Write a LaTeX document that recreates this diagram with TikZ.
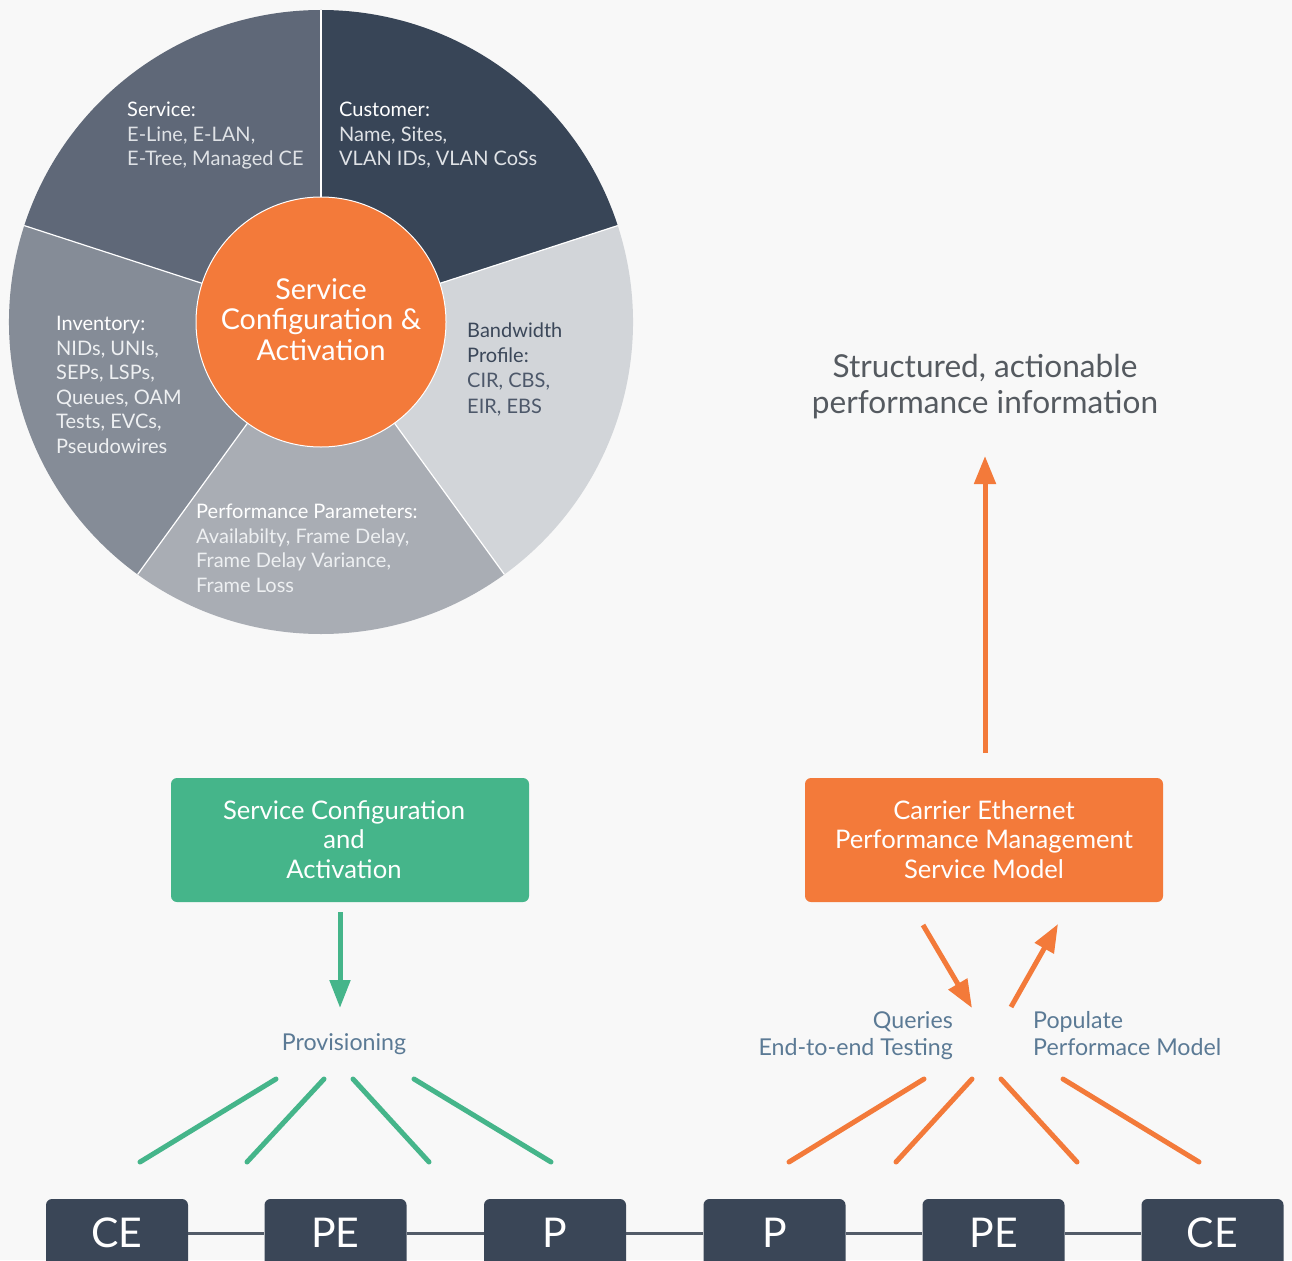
\documentclass[tikz,border=0pt]{standalone}
\usepackage{fontspec}
\setmainfont{Lato}
\usetikzlibrary{arrows.meta}
\definecolor{bg}{HTML}{F8F8F8}
\definecolor{segService}{HTML}{5F6878}
\definecolor{segCust}{HTML}{384557}
\definecolor{segBand}{HTML}{D2D5D9}
\definecolor{segPerf}{HTML}{A9ADB4}
\definecolor{segInv}{HTML}{858C97}
\definecolor{orng}{HTML}{F37A3A}
\definecolor{grn}{HTML}{45B58A}
\definecolor{slate}{HTML}{5B7A95}
\definecolor{netdark}{HTML}{3A4657}
\definecolor{netline}{HTML}{525B68}
\definecolor{headgray}{HTML}{555A60}
\definecolor{bodyA}{HTML}{DFE2E6}
\definecolor{bodyB}{HTML}{EEF0F2}
\definecolor{bandTitle}{HTML}{3B4759}
\definecolor{bandBody}{HTML}{4D586A}
\begin{document}
\begin{tikzpicture}[x=1pt,y=1pt,
  segtxt/.style={font=\fontsize{20}{24.5}\selectfont, align=left, inner sep=0pt, anchor=base west},
  boxtxt/.style={font=\fontsize{25.6}{29.5}\selectfont, align=center, text=white, inner sep=0pt},
  lbl/.style={font=\fontsize{23.2}{27}\selectfont, text=slate, inner sep=0pt},
  netbox/.style={fill=netdark, rounded corners=6pt, minimum width=142pt, minimum height=68pt, inner sep=0pt, text=white, font=\fontsize{41}{41}\selectfont},
  netlink/.style={draw=netline, line width=3pt},
  gfan/.style={draw=grn, line width=5pt, line cap=round},
  ofan/.style={draw=orng, line width=5pt, line cap=round},
  garrow/.style={draw=grn, line width=5pt, -{Triangle[width=20pt,length=28pt]}},
  oarrow/.style={draw=orng, line width=5pt, -{Triangle[width=21pt,length=28pt]}}
]
\useasboundingbox (0,0) rectangle (1292,-1260);
\clip (0,0) rectangle (1292,-1260);
\fill[bg] (0,0) rectangle (1292,-1260);

% pie
\coordinate (C) at (321,-322);
\fill[segCust] (C) -- ++(18:312pt) arc[start angle=18,end angle=90,radius=312pt] -- cycle;
\fill[segService] (C) -- ++(90:312pt) arc[start angle=90,end angle=162,radius=312pt] -- cycle;
\fill[segInv] (C) -- ++(162:312pt) arc[start angle=162,end angle=234,radius=312pt] -- cycle;
\fill[segPerf] (C) -- ++(234:312pt) arc[start angle=234,end angle=306,radius=312pt] -- cycle;
\fill[segBand] (C) -- ++(306:312pt) arc[start angle=306,end angle=378,radius=312pt] -- cycle;
\foreach \a in {18,90,162,234,306} \draw[white, line width=1.2pt] (C) -- ++(\a:312pt);
\node[circle, fill=orng, draw=white, line width=1pt, minimum size=250pt, inner sep=0pt] (hub) at (C) {};
\node[font=\fontsize{28.7}{30.5}\selectfont, text=white, align=center, inner sep=0pt, anchor=base] (hubtxt) at (321,-360) {Service\\Configuration \&\\Activation};

\node[segtxt, text=bodyA] (svc) at (127,-166) {\textcolor{white}{Service:}\\E-Line, E-LAN,\\E-Tree, Managed CE};
\node[segtxt, text=bodyA] (cust) at (339,-166) {\textcolor{white}{Customer:}\\Name, Sites,\\VLAN IDs, VLAN CoSs};
\node[segtxt, text=bodyB] (inv) at (56,-453) {\textcolor{white}{Inventory:}\\NIDs, UNIs,\\SEPs, LSPs,\\Queues, OAM\\Tests, EVCs,\\Pseudowires};
\node[segtxt, text=bandBody, font=\fontsize{20}{25.2}\selectfont] (band) at (467,-413) {\textcolor{bandTitle}{Bandwidth}\\\textcolor{bandTitle}{Profile:}\\CIR, CBS,\\EIR, EBS};
\node[segtxt, text=bodyB] (perf) at (196,-592) {\textcolor{white}{Performance Parameters:}\\Availabilty, Frame Delay,\\Frame Delay Variance,\\Frame Loss};

% heading
\node[font=\fontsize{31.6}{35.5}\selectfont, text=headgray, align=center, inner sep=0pt, anchor=base] (head) at (985,-413) {Structured, actionable\\performance information};

% boxes
\node[fill=grn, rounded corners=6pt, minimum width=358pt, minimum height=124pt, inner sep=0pt] (gbox) at (350,-840) {};
\node[boxtxt, anchor=base] (gboxtxt) at (344,-878) {Service Configuration\\and\\Activation};
\node[fill=orng, rounded corners=6pt, minimum width=358pt, minimum height=124pt, inner sep=0pt] (obox) at (984,-840) {};
\node[boxtxt, anchor=base] (oboxtxt) at (984,-878) {Carrier Ethernet\\Performance Management\\Service Model};

% arrows
\coordinate (ga0) at (340,-912);
\coordinate (ga1) at (340,-1008);
\draw[garrow] (ga0) -- (ga1);
\node[lbl, anchor=base] (prov) at (344,-1050) {Provisioning};

\coordinate (up0) at (985,-753);
\coordinate (up1) at (985,-456);
\draw[oarrow] (up0) -- (up1);
\coordinate (q0) at (923,-925);
\coordinate (q1) at (972,-1008);
\draw[oarrow] (q0) -- (q1);
\coordinate (p0) at (1011,-1007);
\coordinate (p1) at (1058,-924);
\draw[oarrow] (p0) -- (p1);
\node[lbl, anchor=base east, align=right] (qry) at (953,-1055) {Queries\\End-to-end Testing};
\node[lbl, anchor=base west, align=left] (pop) at (1033,-1055) {Populate\\Performace Model};

% fan lines
\coordinate (g1a) at (276,-1079); \coordinate (g1b) at (140,-1162);
\coordinate (g2a) at (324,-1079); \coordinate (g2b) at (247,-1162);
\coordinate (g3a) at (353,-1079); \coordinate (g3b) at (429,-1162);
\coordinate (g4a) at (414,-1079); \coordinate (g4b) at (551,-1162);
\draw[gfan] (g1a) -- (g1b);
\draw[gfan] (g2a) -- (g2b);
\draw[gfan] (g3a) -- (g3b);
\draw[gfan] (g4a) -- (g4b);
\coordinate (o1a) at (924,-1079); \coordinate (o1b) at (789,-1162);
\coordinate (o2a) at (972,-1079); \coordinate (o2b) at (896,-1162);
\coordinate (o3a) at (1001,-1079); \coordinate (o3b) at (1077,-1162);
\coordinate (o4a) at (1063,-1079); \coordinate (o4b) at (1199,-1162);
\draw[ofan] (o1a) -- (o1b);
\draw[ofan] (o2a) -- (o2b);
\draw[ofan] (o3a) -- (o3b);
\draw[ofan] (o4a) -- (o4b);

% network
\node[netbox] (ce1) at (117,-1233) {CE};
\node[netbox] (pe1) at (335.5,-1233) {PE};
\node[netbox] (p1) at (555,-1233) {P};
\node[netbox] (p2) at (774.5,-1233) {P};
\node[netbox] (pe2) at (993.5,-1233) {PE};
\node[netbox] (ce2) at (1212.5,-1233) {CE};
\draw[netlink] (ce1) -- (pe1);
\draw[netlink] (pe1) -- (p1);
\draw[netlink] (p1) -- (p2);
\draw[netlink] (p2) -- (pe2);
\draw[netlink] (pe2) -- (ce2);
\end{tikzpicture}
\end{document}
